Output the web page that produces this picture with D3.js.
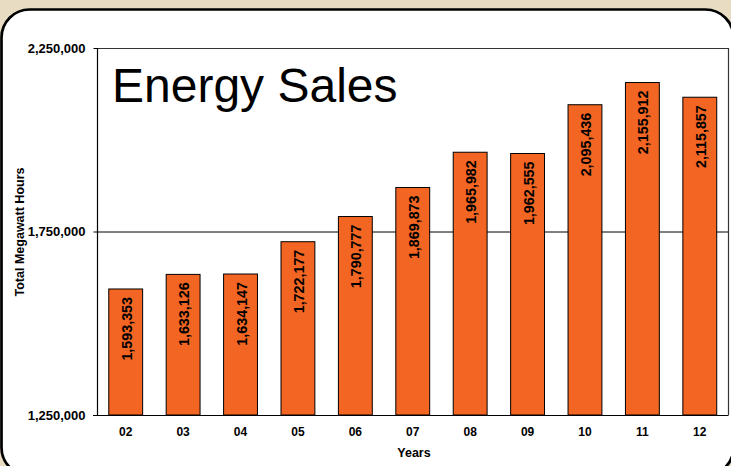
<!DOCTYPE html>
<html>
<head>
<meta charset="utf-8">
<script src="https://cdn.jsdelivr.net/npm/d3@7"></script>
<style>
  html, body { margin: 0; padding: 0; background: #e8ddc2; }
  svg { display: block; }
  text { font-family: "Liberation Sans", Arial, sans-serif; }
</style>
</head>
<body>
<svg id="chart" width="731" height="466"></svg>
<script>
const categories = ["02", "03", "04", "05", "06", "07", "08", "09", "10", "11", "12"];
const sales = [1593353, 1633126, 1634147, 1722177, 1790777, 1869873, 1965982, 1962555, 2095436, 2155912, 2115857];
const yTicks = [1250000, 1750000, 2250000];
const title = "Energy Sales";
const yTitle = "Total Megawatt Hours";
const xTitle = "Years";

(function () {
const svg = d3.select("#chart");
const W = 731, H = 466;

svg.append("rect").attr("x", 0).attr("y", 0).attr("width", W).attr("height", H).attr("fill", "#e8ddc2");
svg.append("rect")
  .attr("x", 1.5).attr("y", 9.5).attr("width", 732).attr("height", 466)
  .attr("rx", 28).attr("ry", 28)
  .attr("fill", "#ffffff").attr("stroke", "#000").attr("stroke-width", 2.7);

const pL = 97, pR = 728.5, pT = 48, pB = 415;

const x = d3.scaleBand().domain(categories).range([pL, pR]).paddingInner(0.41).paddingOuter(0.205);
const y = d3.scaleLinear().domain([1250000, 2250000]).range([pB, pT]);

const fmt = d3.format(",");

// gridline and plot frame
const g = svg.append("g");
g.selectAll("line.grid").data(yTicks.filter(d => d > 1250000 && d < 2250000)).join("line")
  .attr("x1", pL).attr("x2", pR).attr("y1", d => y(d) + 0.5).attr("y2", d => y(d) + 0.5)
  .attr("stroke", "#000").attr("stroke-width", 1);
g.append("line").attr("x1", pL).attr("x2", pR).attr("y1", pT + 0.5).attr("y2", pT + 0.5)
  .attr("stroke", "#333").attr("stroke-width", 1.2);
g.append("line").attr("x1", pR).attr("x2", pR).attr("y1", pT).attr("y2", pB)
  .attr("stroke", "#333").attr("stroke-width", 1.2);

// bars
svg.append("g").selectAll("rect").data(sales).join("rect")
  .attr("x", (d, i) => x(categories[i]))
  .attr("y", d => y(d))
  .attr("width", x.bandwidth())
  .attr("height", d => pB - y(d))
  .attr("fill", "#f26522")
  .attr("stroke", "#000").attr("stroke-width", 1);

// value labels
svg.append("g").selectAll("text").data(sales).join("text")
  .attr("transform", (d, i) => `translate(${x(categories[i]) + x.bandwidth() / 2 + 1},${y(d) + 8}) rotate(-90)`)
  .attr("text-anchor", "end")
  .attr("dominant-baseline", "central")
  .attr("font-size", 14.3).attr("font-weight", "bold").attr("fill", "#000")
  .text(d => fmt(d));

// y axis
const yAxis = d3.axisLeft(y).tickValues(yTicks).tickFormat(fmt).tickSize(4).tickPadding(8);
const ya = svg.append("g").attr("transform", `translate(${pL + 0.5},0)`).call(yAxis);
ya.select(".domain").attr("stroke", "#000").attr("stroke-width", 1.2).attr("d", `M0,${pT}V${pB}`);
ya.selectAll(".tick line").attr("stroke", "#000");
ya.selectAll(".tick text").attr("font-size", 13).attr("font-weight", "bold").attr("fill", "#000")
  .attr("font-family", "Liberation Sans, Arial, sans-serif");

// x axis
const xAxis = d3.axisBottom(x).tickSize(0).tickPadding(12);
const xa = svg.append("g").attr("transform", `translate(0,${pB + 0.5})`).call(xAxis);
xa.select(".domain").attr("stroke", "#000").attr("stroke-width", 1.2).attr("d", `M${pL - 4},0H${pR}`);
xa.selectAll(".tick text").attr("font-size", 12).attr("font-weight", "bold").attr("fill", "#000")
  .attr("font-family", "Liberation Sans, Arial, sans-serif");

// titles
svg.append("text").attr("x", 112).attr("y", 102).attr("font-size", 48).attr("fill", "#000").text(title);
svg.append("text").attr("transform", `translate(24,232) rotate(-90)`)
  .attr("text-anchor", "middle").attr("font-size", 12.5).attr("font-weight", "bold").attr("fill", "#000").text(yTitle);
svg.append("text").attr("x", 414).attr("y", 457).attr("text-anchor", "middle")
  .attr("font-size", 12.5).attr("font-weight", "bold").attr("fill", "#000").text(xTitle);
})();
</script>
</body>
</html>
